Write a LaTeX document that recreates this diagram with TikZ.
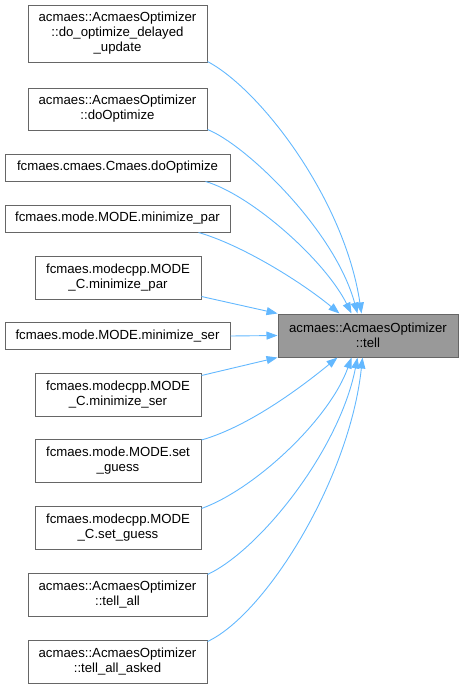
\documentclass[tikz,border=0pt]{standalone}
\usepackage{fontspec}
\setmainfont{Liberation Sans}
\usetikzlibrary{arrows.meta,calc}
\definecolor{boxborder}{HTML}{666666}
\definecolor{tgtfill}{HTML}{999999}
\definecolor{edgeblue}{HTML}{63B8FF}
\begin{document}
\begin{tikzpicture}[x=1pt,y=-1pt,
  box/.style={draw=boxborder,line width=1pt,fill=white,inner sep=0pt,align=center,
    font=\fontsize{13.2}{15}\selectfont},
  tgt/.style={box,fill=tgtfill},
  edge/.style={draw=edgeblue,line width=0.9pt,-{Triangle[length=11pt,width=8pt]}}]
\useasboundingbox (0,0) rectangle (463,688);
\node[box,minimum width=179pt,minimum height=57pt] (n1) at (117.5,33.5) {acmaes::AcmaesOptimizer\\::do\_optimize\_delayed\\\_update};
\node[box,minimum width=179pt,minimum height=42pt] (n2) at (117.5,109) {acmaes::AcmaesOptimizer\\::doOptimize};
\node[box,minimum width=225pt,minimum height=27pt] (n3) at (117.5,167.5) {fcmaes.cmaes.Cmaes.doOptimize};
\node[box,minimum width=225pt,minimum height=27pt] (n4) at (117.5,218.5) {fcmaes.mode.MODE.minimize\_par};
\node[box,minimum width=166pt,minimum height=43pt] (n5) at (118,277.5) {fcmaes.modecpp.MODE\\\_C.minimize\_par};
\node[box,minimum width=225pt,minimum height=27pt] (n6) at (117.5,336) {fcmaes.mode.MODE.minimize\_ser};
\node[box,minimum width=166pt,minimum height=43pt] (n7) at (118,394.5) {fcmaes.modecpp.MODE\\\_C.minimize\_ser};
\node[box,minimum width=166pt,minimum height=43pt] (n8) at (118,461) {fcmaes.mode.MODE.set\\\_guess};
\node[box,minimum width=166pt,minimum height=43pt] (n9) at (118,527.5) {fcmaes.modecpp.MODE\\\_C.set\_guess};
\node[box,minimum width=179pt,minimum height=43pt] (n10) at (117.5,594.5) {acmaes::AcmaesOptimizer\\::tell\_all};
\node[box,minimum width=179pt,minimum height=43pt] (n11) at (117.5,661.5) {acmaes::AcmaesOptimizer\\::tell\_all\_asked};
\node[tgt,minimum width=180pt,minimum height=43pt] (t) at (368,335.5) {acmaes::AcmaesOptimizer\\::tell};
% edges
\draw[edge] ($(n1.south east)+(0,-1)$) .. controls +(53,28) and +(-17,-114) .. ($(t.north west)+(84,0)$);
\draw[edge] ($(n2.south east)+(0,-1)$) .. controls +(38,15) and +(-23,-84) .. ($(t.north west)+(80,0)$);
\draw[edge] ($(n3.south east)+(-25,0)$) .. controls +(45,13) and +(-27,-54) .. ($(t.north west)+(74,0)$);
\draw[edge] ($(n4.south east)+(-32,0)$) .. controls +(42,12) and +(-40,-33) .. ($(t.north west)+(62,0)$);
\draw[edge] ($(n5.east)+(0,19)$) -- (t.north west);
\draw[edge] (n6.east) -- (t.west);
\draw[edge] ($(n7.east)+(0,-19)$) -- (t.south west);
\draw[edge] ($(n8.north east)+(0,1)$) .. controls +(49,-14) and +(-33,27) .. ($(t.south west)+(60,0)$);
\draw[edge] ($(n9.north east)+(0,3)$) .. controls +(53,-19) and +(-22,62) .. ($(t.south west)+(74,0)$);
\draw[edge] ($(n10.north east)+(0,2)$) .. controls +(53,-25) and +(-18,92) .. ($(t.south west)+(80,0)$);
\draw[edge] ($(n11.north east)+(0,2)$) .. controls +(58,-27) and +(-13,122) .. ($(t.south west)+(85,0)$);
\end{tikzpicture}
\end{document}
